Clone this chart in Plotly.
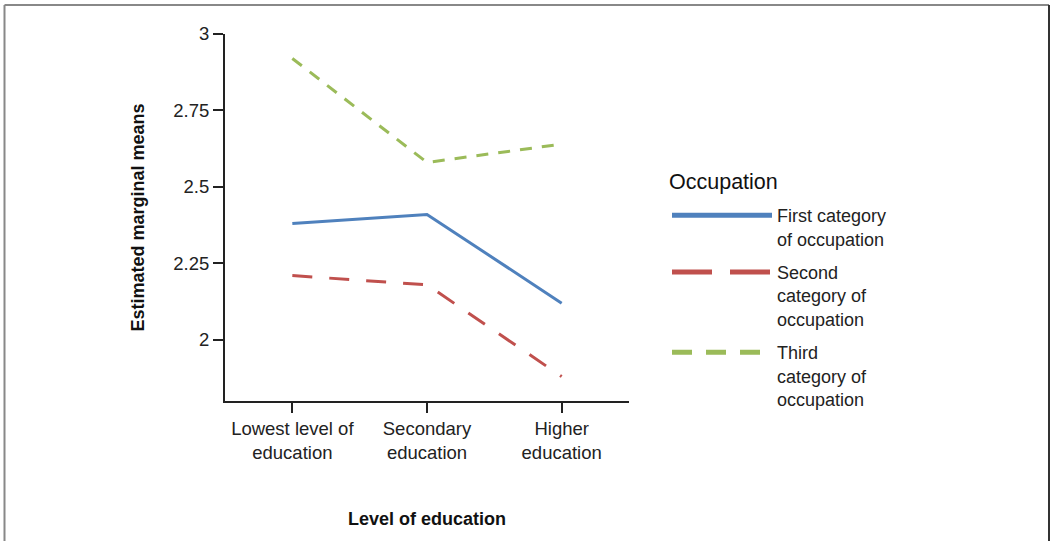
import plotly.graph_objects as go

categories = ["Lowest level of<br>education", "Secondary<br>education", "Higher<br>education"]
series_names = ["First category<br>of occupation", "Second<br>category of<br>occupation", "Third<br>category of<br>occupation"]
first_vals = [2.38, 2.41, 2.12]
second_vals = [2.21, 2.18, 1.88]
third_vals = [2.92, 2.58, 2.64]
y_ticks = [2, 2.25, 2.5, 2.75, 3]
y_ticktext = ["2", "2.25", "2.5", "2.75", "3"]

colors = ["#4F81BD", "#C0504D", "#9BBB59"]
plot_dash = ["solid", "20px,17px", "12px,10px"]
legend_dash = ["solid", "40px,18px", "20px,14px"]
values = [first_vals, second_vals, third_vals]

FONT = "Liberation Sans, Arial, sans-serif"
fig = go.Figure()
for i in range(3):
    fig.add_trace(go.Scatter(
        x=categories, y=values[i], mode="lines", showlegend=False,
        line=dict(color=colors[i], width=3, dash=plot_dash[i]),
    ))
for i in range(3):
    fig.add_trace(go.Scatter(
        x=[None], y=[None], mode="lines", name=series_names[i],
        legendgroup=f"g{i}",
        line=dict(color=colors[i], width=5, dash=legend_dash[i]),
    ))

axis_color = "#222222"
fig.update_layout(
    width=1051, height=541,
    margin=dict(l=225, r=422, t=34, b=140),
    paper_bgcolor="white", plot_bgcolor="white",
    font=dict(family=FONT, size=18, color="#222222"),
    xaxis=dict(
        type="category", range=[-0.5, 2.5], showgrid=False, zeroline=False,
        showline=True, linecolor=axis_color, linewidth=2,
        ticks="outside", ticklen=10, tickwidth=1.5, tickcolor=axis_color,
        tickfont=dict(size=18.5, color="#222222"),
    ),
    yaxis=dict(
        range=[1.8, 3], showgrid=False, zeroline=False,
        showline=True, linecolor=axis_color, linewidth=2,
        ticks="outside", ticklen=10, tickwidth=1.5, tickcolor=axis_color,
        tickvals=y_ticks, ticktext=y_ticktext,
        tickfont=dict(size=18.5, color="#222222"),
    ),
    legend=dict(
        x=(667 - 225) / 404, xanchor="left", y=(401 - 197) / 367, yanchor="top",
        font=dict(size=18, color="#222222"),
        bgcolor="rgba(0,0,0,0)", itemwidth=100, valign="top",
        tracegroupgap=7, traceorder="grouped",
    ),
    annotations=[
        dict(text="Occupation", xref="paper", yref="paper",
             x=(667 - 225) / 404, y=(401 - 182) / 367, showarrow=False,
             xanchor="left", yanchor="middle", font=dict(size=21.5, color="#111111")),
        dict(text="<b>Estimated marginal means</b>", xref="paper", yref="paper",
             x=(137 - 225) / 404, y=0.5, textangle=-90, showarrow=False,
             xanchor="center", yanchor="middle", font=dict(size=18, color="#111111")),
        dict(text="<b>Level of education</b>", xref="paper", yref="paper",
             x=0.5, y=(401 - 519) / 367, showarrow=False,
             xanchor="center", yanchor="middle", font=dict(size=18, color="#111111")),
    ],
    shapes=[
        dict(type="line", xref="paper", yref="paper", x0=(4.5 - 225) / 404, x1=(4.5 - 225) / 404,
             y0=(401 - 545) / 367, y1=(401 - 5) / 367, line=dict(color="#888888", width=2)),
        dict(type="line", xref="paper", yref="paper", x0=(4.5 - 225) / 404, x1=(1049 - 225) / 404,
             y0=(401 - 5) / 367, y1=(401 - 5) / 367, line=dict(color="#888888", width=2)),
        dict(type="line", xref="paper", yref="paper", x0=(1049 - 225) / 404, x1=(1049 - 225) / 404,
             y0=(401 - 545) / 367, y1=(401 - 5) / 367, line=dict(color="#333333", width=2)),
    ],
)
fig.write_html("out.html", config={"displayModeBar": False},
               post_script="document.body.style.margin='0';")
